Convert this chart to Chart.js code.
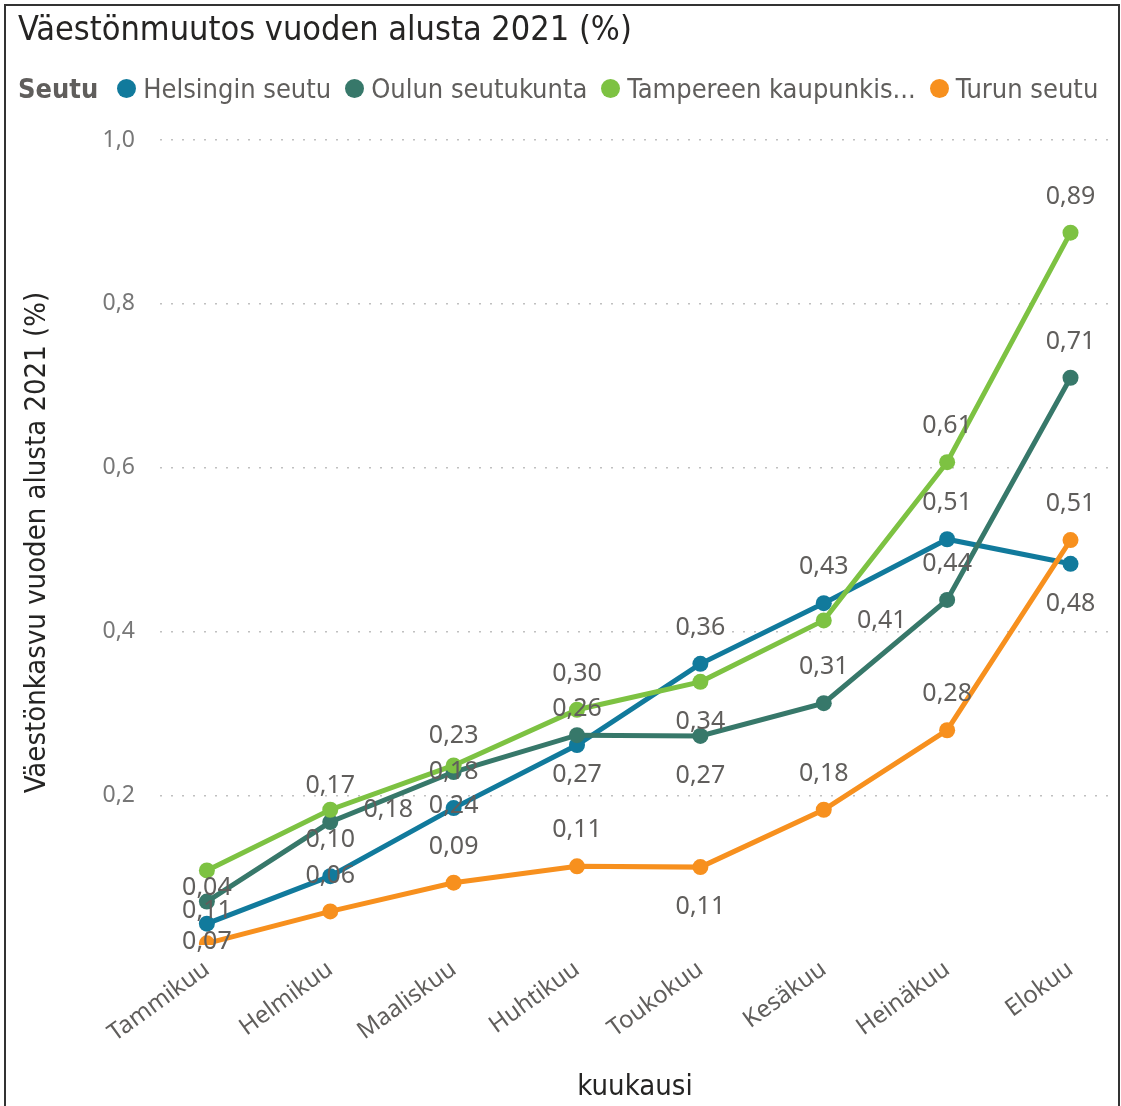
<!DOCTYPE html>
<html lang="fi">
<head>
    <meta charset="UTF-8" />
    <title>Väestönmuutos vuoden alusta 2021 (%)</title>
    <script src="https://cdn.jsdelivr.net/npm/chart.js"></script>
    <style>
        html, body { margin: 0; padding: 0; background: #fff; }
        body { width: 1121px; height: 1106px; overflow: hidden; position: relative; }
        .frame { position: absolute; left: 4px; top: 4px; width: 1116px; height: 1120px; border: 2px solid #333; box-sizing: border-box; }
        .title { position: absolute; left: 18px; top: 8px; font: 34px 'DejaVu Sans Condensed', 'DejaVu Sans', sans-serif; color: #252423; white-space: nowrap; }
        .legend { position: absolute; left: 18px; top: 73px; display: flex; align-items: center; font: 27px 'DejaVu Sans Condensed', 'DejaVu Sans', sans-serif; color: #605e5c; white-space: nowrap; }
        .legend b { margin-right: 19px; }
        .legend .item { display: flex; align-items: center; margin-right: 14px; }
        .legend .dot { width: 19px; height: 19px; border-radius: 50%; margin-right: 7px; }
        #chart { position: absolute; left: 0; top: 0; }
    </style>
</head>
<body>
<div class="frame"></div>
<canvas id="chart" width="1121" height="1106"></canvas>
<div class="title">Väestönmuutos vuoden alusta 2021 (%)</div>
<div class="legend" id="legend"><b>Seutu</b></div>
<script>
    const months = ['Tammikuu', 'Helmikuu', 'Maaliskuu', 'Huhtikuu', 'Toukokuu', 'Kesäkuu', 'Heinäkuu', 'Elokuu'];
    const seriesNames = ['Helsingin seutu', 'Oulun seutukunta', 'Tampereen kaupunkiseutu', 'Turun seutu'];
    const helsinki = [0.044, 0.102, 0.185, 0.262, 0.361, 0.435, 0.513, 0.483];
    const oulu = [0.071, 0.168, 0.229, 0.274, 0.273, 0.313, 0.439, 0.710];
    const tampere = [0.109, 0.183, 0.237, 0.305, 0.339, 0.414, 0.607, 0.887];
    const turku = [0.020, 0.059, 0.094, 0.114, 0.113, 0.183, 0.280, 0.512];
    const yTicks = [0.2, 0.4, 0.6, 0.8, 1.0];
    const colors = ['#117a9c', '#37786a', '#7dc242', '#f7901e'];

    // where each data label sits: a = above, b = below, r = right, '' = hidden
    const labelPos = [
        ['a', 'a', 'a', 'a', 'a', 'a', 'a', 'b'],
        ['b', 'a', 'a', 'b', 'b', 'a', 'a', 'a'],
        ['b', 'r', 'b', 'a', 'b', 'r', 'a', 'a'],
        ['', 'a', 'a', 'a', 'b', 'a', 'a', 'a']
    ];

    const allValues = [helsinki, oulu, tampere, turku];
    const fmt = v => v.toFixed(2).replace('.', ',');

    // html legend built from the series
    const legendEl = document.getElementById('legend');
    seriesNames.forEach((name, i) => {
        const item = document.createElement('span');
        item.className = 'item';
        const dot = document.createElement('span');
        dot.className = 'dot';
        dot.style.background = colors[i];
        const txt = document.createElement('span');
        txt.textContent = name.length > 20 ? name.slice(0, 19) + '...' : name;
        item.appendChild(dot);
        item.appendChild(txt);
        legendEl.appendChild(item);
    });

    const dataLabels = {
        id: 'dataLabels',
        afterDatasetsDraw(chart) {
            const ctx = chart.ctx;
            ctx.save();
            ctx.font = '25px "Noto Sans", sans-serif';
            ctx.fillStyle = '#605e5c';
            ctx.textAlign = 'center';
            ctx.textBaseline = 'middle';
            chart.data.datasets.forEach((ds, di) => {
                const meta = chart.getDatasetMeta(di);
                meta.data.forEach((pt, i) => {
                    const pos = labelPos[di][i];
                    if (!pos) return;
                    let x = pt.x, y = pt.y;
                    if (pos === 'a') y -= 36;
                    else if (pos === 'b') y += 40;
                    else if (pos === 'r') x += 58;
                    ctx.fillText(fmt(allValues[di][i]), x, y);
                });
            });
            ctx.restore();
        }
    };

    const datasets = allValues.map((vals, i) => ({
        label: seriesNames[i],
        data: vals.map((v, j) => ({ x: j, y: v })),
        borderColor: colors[i],
        backgroundColor: colors[i],
        borderWidth: 5,
        pointRadius: 8,
        pointHoverRadius: 8,
        pointBorderWidth: 0,
        tension: 0,
        order: allValues.length - i
    }));

    new Chart(document.getElementById('chart').getContext('2d'), {
        type: 'line',
        data: { datasets: datasets },
        options: {
            responsive: false,
            animation: false,
            layout: { padding: { left: 16, right: 11, top: 140, bottom: 1 } },
            plugins: {
                legend: { display: false },
                tooltip: { enabled: false }
            },
            scales: {
                x: {
                    type: 'linear',
                    min: -0.38,
                    max: 7.32,
                    afterBuildTicks: s => { s.ticks = months.map((m, i) => ({ value: i })); },
                    afterFit: s => { s.height = 160; },
                    grid: { display: false },
                    border: { display: false },
                    ticks: {
                        autoSkip: false,
                        maxRotation: 36,
                        minRotation: 36,
                        padding: 2,
                        color: '#605e5c',
                        font: { family: 'Noto Sans', size: 24 },
                        callback: v => months[v]
                    },
                    title: {
                        display: true,
                        text: 'kuukausi',
                        color: '#252423',
                        font: { family: 'DejaVu Sans Condensed', size: 29 },
                        padding: { top: 0, bottom: 0 }
                    }
                },
                y: {
                    min: 0.018,
                    max: 1.0,
                    afterBuildTicks: s => { s.ticks = yTicks.map(v => ({ value: v })); },
                    afterFit: s => { s.width = 144; },
                    grid: { color: '#c0c0c0', lineWidth: 1.5, drawTicks: false },
                    border: { display: false, dash: [2, 9] },
                    ticks: {
                        padding: 25,
                        color: '#777',
                        font: { family: 'Noto Sans', size: 23 },
                        callback: v => v.toFixed(1).replace('.', ',')
                    },
                    title: {
                        display: true,
                        text: 'Väestönkasvu vuoden alusta 2021 (%)',
                        color: '#252423',
                        font: { family: 'DejaVu Sans Condensed', size: 29 },
                        padding: { top: 4, bottom: 0 }
                    }
                }
            }
        },
        plugins: [dataLabels]
    });
</script>
</body>
</html>
